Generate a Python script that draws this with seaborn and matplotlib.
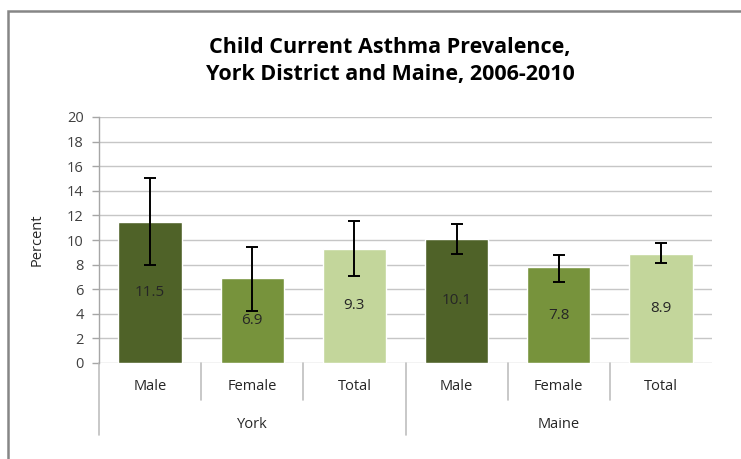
import matplotlib
matplotlib.use("Agg")
import matplotlib.pyplot as plt
import matplotlib.transforms as mtransforms
from matplotlib.patches import Rectangle
import seaborn as sns
import pandas as pd
import numpy as np

# ---- data ----
regions = ["York", "York", "York", "Maine", "Maine", "Maine"]
sexes = ["Male", "Female", "Total", "Male", "Female", "Total"]
values = [11.5, 6.9, 9.3, 10.1, 7.8, 8.9]
ci_low = [8.0, 4.25, 7.05, 8.85, 6.6, 8.15]
ci_high = [15.05, 9.45, 11.55, 11.3, 8.8, 9.75]
group_names = ["York", "Maine"]
title = "Child Current Asthma Prevalence,\nYork District and Maine, 2006-2010"
ylabel = "Percent"
yticks = list(range(0, 21, 2))

colors = {"Male": "#4F6228", "Female": "#77933C", "Total": "#C3D69B"}

df = pd.DataFrame({
    "key": [f"{r} {s}" for r, s in zip(regions, sexes)],
    "region": regions,
    "sex": sexes,
    "value": values,
})

sns.set_theme(style="white")
plt.rcParams["font.family"] = ["Open Sans", "DejaVu Sans"]

fig = plt.figure(figsize=(7.41, 4.59), dpi=100)
ax = fig.add_axes([99 / 741, 1 - 363 / 459, (712 - 99) / 741, (363 - 117) / 459])

sns.barplot(data=df, x="key", y="value", hue="key",
            palette=[colors[s] for s in sexes], width=0.62,
            legend=False, ax=ax, saturation=1, errorbar=None)

x = np.arange(len(values))
v = np.array(values)
yerr = [v - np.array(ci_low), np.array(ci_high) - v]
ax.errorbar(x, v, yerr=yerr, fmt="none", ecolor="black", elinewidth=1.4,
            capsize=4.5, capthick=1.4, zorder=5)

# data labels centered in bars
for xi, val in zip(x, values):
    ax.text(xi, val / 2, f"{val:.1f}", ha="center", va="center",
            fontsize=11, color="#262626", zorder=6)

ax.set_ylim(0, 20)
ax.set_xlim(-0.5, len(values) - 0.5)
ax.set_yticks(yticks)
ax.set_yticklabels([str(t) for t in yticks], fontsize=10.5, color="#404040")
ax.yaxis.grid(True, color="#C6C6C6", linewidth=1)
ax.set_axisbelow(True)
ax.tick_params(axis="y", which="both", left=True, length=5, width=1,
               color="#A6A6A6", pad=6)
ax.set_xticks([])
ax.set_xlabel("")
ax.set_ylabel(ylabel, fontsize=10.5, color="#262626", labelpad=16)

for side in ["top", "right", "bottom"]:
    ax.spines[side].set_visible(False)
ax.spines["left"].set_color("#A6A6A6")
ax.spines["left"].set_linewidth(1)

# category labels and separators
trans = mtransforms.blended_transform_factory(ax.transData, ax.transAxes)
for xi, s in zip(x, sexes):
    ax.text(xi, -24 / 246, s, transform=trans, ha="center", va="center",
            fontsize=10.5, color="#262626")
for gi, g in enumerate(group_names):
    ax.text(gi * 3 + 1, -61 / 246, g, transform=trans, ha="center",
            va="center", fontsize=10.5, color="#262626")
for b in [0.5, 1.5, 3.5, 4.5]:
    ax.plot([b, b], [0, -37 / 246], transform=trans, color="#BFBFBF",
            lw=1.2, clip_on=False)
for b in [-0.5, 2.5]:
    ax.plot([b, b], [0, -72 / 246], transform=trans, color="#BFBFBF",
            lw=1.2, clip_on=False)

fig.text(390 / 741, 1 - 61 / 459, title, ha="center", va="center",
         fontsize=15.5, fontweight="bold", color="#000000", linespacing=1.42)

# chart border
fig.patches.append(Rectangle((7.5 / 741, -0.1), 1.0, 1.1 - 11 / 459,
                             transform=fig.transFigure, fill=False,
                             edgecolor="#868686", linewidth=1.8))

fig.savefig("out.png", dpi=100, facecolor="white")
